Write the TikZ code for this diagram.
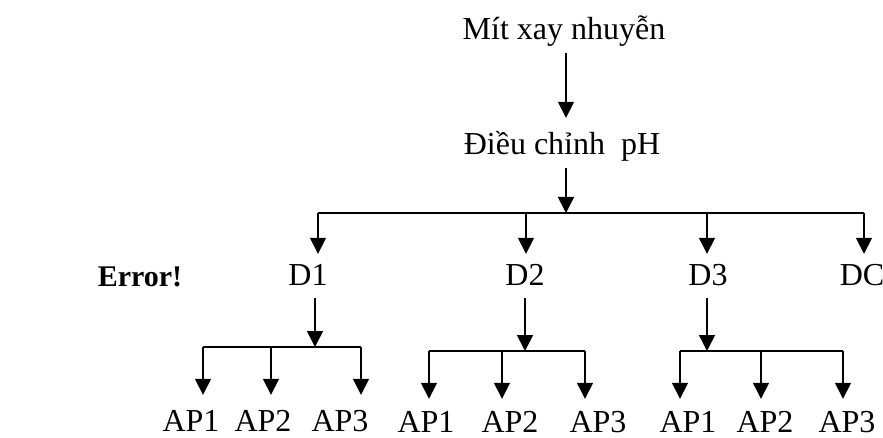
\documentclass[tikz,border=0pt]{standalone}
\usepackage{fontspec}
\setmainfont{Liberation Serif}
\usetikzlibrary{arrows.meta}
\begin{document}
\begin{tikzpicture}[x=1pt,y=-1pt,
  lbl/.style={anchor=base,inner sep=0pt,text height=22pt,text depth=7pt,
    font=\fontsize{32}{38}\selectfont},
  leaf/.style={lbl,text depth=0pt},
  wire/.style={line width=1.6pt},
  arr/.style={wire,-{Triangle[width=16pt,length=16pt]}},
  fromlbl/.style={shorten <=5pt},
]
\useasboundingbox (0,0) rectangle (883,438);

% labels
\node[lbl] (mit)  at (564,40)  {Mít xay nhuyễn};
\node[lbl] (dieu) at (562,155) {Điều chỉnh\ \ pH};
\node[lbl,font=\fontsize{30}{36}\selectfont\bfseries] (err) at (140,287) {Error!};
\node[lbl] (d1) at (308,286) {D1};
\node[lbl] (d2) at (525,286) {D2};
\node[lbl] (d3) at (708,286) {D3};
\node[lbl] (dc) at (862,286) {DC};

\node[leaf] (a11) at (191,431) {AP1};
\node[leaf] (a12) at (263,431) {AP2};
\node[leaf] (a13) at (340,431) {AP3};
\node[leaf] (a21) at (426,432) {AP1};
\node[leaf] (a22) at (510,432) {AP2};
\node[leaf] (a23) at (598,432) {AP3};
\node[leaf] (a31) at (688,432) {AP1};
\node[leaf] (a32) at (765,432) {AP2};
\node[leaf] (a33) at (847,432) {AP3};

% junction points
\coordinate (bus)  at (566,213);
\coordinate (b1)   at (318,213);
\coordinate (b2)   at (526,213);
\coordinate (b3)   at (707,213);
\coordinate (b4)   at (864,213);
\coordinate (s1)   at (315,347);
\coordinate (s1l)  at (203,347);
\coordinate (s1m)  at (271,347);
\coordinate (s1r)  at (361,347);
\coordinate (s2)   at (525,351);
\coordinate (s2l)  at (429,351);
\coordinate (s2m)  at (502,351);
\coordinate (s2r)  at (585,351);
\coordinate (s3)   at (707,351);
\coordinate (s3l)  at (680,351);
\coordinate (s3m)  at (761,351);
\coordinate (s3r)  at (843,351);

% main flow
\draw[arr,shorten <=6pt,shorten >=15pt] (bus |- mit.south) -- (bus |- dieu.north);
\draw[arr,shorten <=6pt] (bus |- dieu.south) -- (bus);
\draw[wire] (b1) -- (b4);
\draw[arr,shorten >=10pt] (b1) -- (b1 |- d1.north);
\draw[arr,shorten >=10pt] (b2) -- (b2 |- d2.north);
\draw[arr,shorten >=10pt] (b3) -- (b3 |- d3.north);
\draw[arr,shorten >=10pt] (b4) -- (b4 |- dc.north);

% D1 branch
\draw[arr,fromlbl] (s1 |- d1.south) -- (s1);
\draw[wire] (s1l) -- (s1r);
\draw[arr,shorten >=14pt] (s1l) -- (s1l |- a11.north);
\draw[arr,shorten >=14pt] (s1m) -- (s1m |- a12.north);
\draw[arr,shorten >=14pt] (s1r) -- (s1r |- a13.north);

% D2 branch
\draw[arr,fromlbl] (s2 |- d2.south) -- (s2);
\draw[wire] (s2l) -- (s2r);
\draw[arr,shorten >=11pt] (s2l) -- (s2l |- a21.north);
\draw[arr,shorten >=11pt] (s2m) -- (s2m |- a22.north);
\draw[arr,shorten >=11pt] (s2r) -- (s2r |- a23.north);

% D3 branch
\draw[arr,fromlbl] (s3 |- d3.south) -- (s3);
\draw[wire] (s3l) -- (s3r);
\draw[arr,shorten >=11pt] (s3l) -- (s3l |- a31.north);
\draw[arr,shorten >=11pt] (s3m) -- (s3m |- a32.north);
\draw[arr,shorten >=11pt] (s3r) -- (s3r |- a33.north);
\end{tikzpicture}
\end{document}
